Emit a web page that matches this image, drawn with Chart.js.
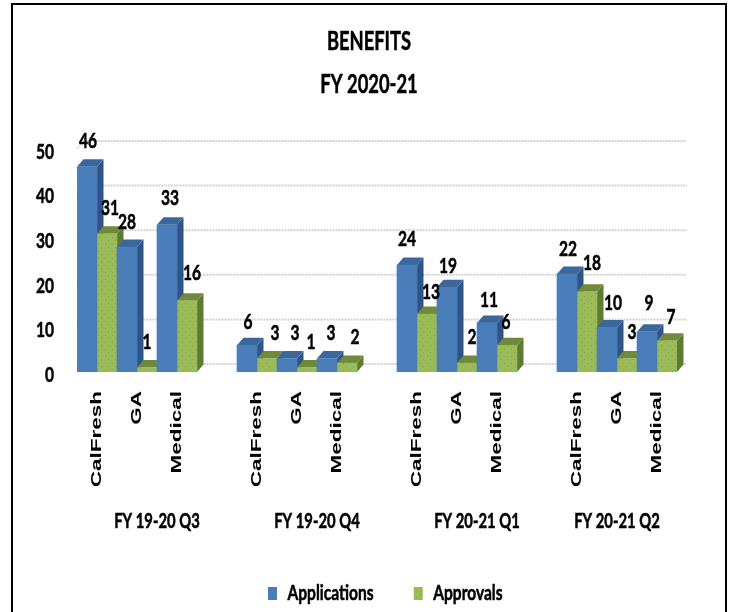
<!DOCTYPE html>
<html><head><meta charset="utf-8">
<script src="https://cdn.jsdelivr.net/npm/chart.js@4"></script>
<style>
html,body{margin:0;padding:0;background:#fff;overflow:hidden}
#frame{position:absolute;left:11px;top:3px;width:712px;height:609px;border:2px solid #000;border-bottom:none;background:#fff}
#wrap{position:absolute;left:0;top:0;width:712px;height:607px}
canvas{filter:blur(0.55px)}
</style></head><body>
<div id="frame"><div id="wrap"><canvas id="c"></canvas></div></div>
<script>
const titleLines = ['BENEFITS', 'FY 2020-21'];
const categories = ['CalFresh','GA','Medical','', 'CalFresh','GA','Medical','', 'CalFresh','GA','Medical','', 'CalFresh','GA','Medical'];
const applications = [46,28,33,null, 6,3,3,null, 24,19,11,null, 22,10,9];
const approvals    = [31,1,16,null, 3,1,2,null, 13,2,6,null, 18,3,7];
const groupLabels = ['FY 19-20 Q3','FY 19-20 Q4','FY 20-21 Q1','FY 20-21 Q2'];
const groupSlots  = [[0,3],[4,7],[8,11],[12,14]];
const yTicks = [0,10,20,30,40,50];
// hand placement of the value labels relative to each bar top (the source nudges them)
const appNudgeX = [1,0,3,0, 1,8,4,0, 0,1,2,0, 1,6,2];
const appNudgeY = [26,25,27,0, 23,25,25,0, 26,21,23,0, 25,24,29];
const aprNudgeX = [3,0,5,0, 8,4,8,0, 4,5,-1,0, 5,5,4];
const aprNudgeY = [26,25,27,0, 25,25,26,0, 22,26,23,0, 28,26,24];

const BODY = 'Lato,"Liberation Sans",sans-serif';
const DX = 6.5, DY = 7.5;
const SQUEEZE = 0.74, STRETCH = 1.5, TITLE_SQUEEZE = 0.68;

function dotted(base, dot){
  const p = document.createElement('canvas'); p.width = 7; p.height = 7;
  const g = p.getContext('2d');
  g.fillStyle = base; g.fillRect(0,0,7,7);
  g.fillStyle = dot; g.fillRect(1,1,1,1); g.fillRect(4,4,1,1);
  return p;
}
const ctx0 = document.getElementById('c').getContext('2d');
const greenFill = ctx0.createPattern(dotted('#9bbb59','#84a548'),'repeat');

// every text on this chart is horizontally scaled and slightly emboldened, as in the source image
let textScale = SQUEEZE;
const rawFill = ctx0.fillText.bind(ctx0);
ctx0.fillText = function(t,x,y){
  ctx0.save(); ctx0.translate(x,y); ctx0.scale(textScale,1);
  rawFill(t,0,0);
  if (textScale < 1){ ctx0.strokeStyle = ctx0.fillStyle; ctx0.lineWidth = 0.55; ctx0.setLineDash([]); ctx0.strokeText(t,0,0); }
  ctx0.restore();
};
function withScale(obj, method, s){
  if (obj['__w'+method]) return;
  const orig = obj[method];
  obj[method] = function(){ textScale = s; const r = orig.apply(this, arguments); textScale = SQUEEZE; return r; };
  obj['__w'+method] = true;
}

const shapes = [
  {top:'#3b679c', side:'#2f5587'},
  {top:'#6f8a3a', side:'#5f7a33'}
];

const plugin3d = {
  id:'plugin3d',
  afterLayout(chart){
    withScale(chart.scales.x,'drawLabels',STRETCH);
    withScale(chart.titleBlock,'draw',TITLE_SQUEEZE);
    const tb = chart.titleBlock;
    tb.left = 0; tb.right = chart.width; tb.top = 1; tb.bottom = tb.top + tb.height;
    const lg = chart.legend, pad = lg.options.labels.padding;
    lg.left = 255 - pad; lg.right = lg.left + 400;
    lg.top = 578 - pad; lg.bottom = lg.top + lg.height;
  },
  beforeDatasetsDraw(chart){
    const c = chart.ctx, y = chart.scales.y, a = chart.chartArea;
    c.save();
    c.strokeStyle = '#d2d2d2'; c.lineWidth = 2; c.setLineDash([2,1]);
    yTicks.forEach(v=>{
      const py = y.getPixelForValue(v);
      c.beginPath(); c.moveTo(a.left+DX, py-DY-0.5); c.lineTo(a.right+10, py-DY-0.5); c.stroke();
    });
    c.setLineDash([]); c.lineWidth = 1; c.strokeStyle = '#c8c8c8';
    yTicks.forEach(v=>{
      const py = y.getPixelForValue(v);
      c.beginPath(); c.moveTo(a.left, py); c.lineTo(a.left+DX, py-DY); c.stroke();
    });
    const base = y.getPixelForValue(0);
    categories.forEach((_,i)=>{
      [0,1].forEach(d=>{
        const el = chart.getDatasetMeta(d).data[i];
        const v = chart.data.datasets[d].data[i];
        if (v == null) return;
        const h = el.width/2, l = el.x-h, r = el.x+h, t = el.y;
        c.fillStyle = shapes[d].side;
        c.beginPath(); c.moveTo(r,t); c.lineTo(r+DX,t-DY); c.lineTo(r+DX,base-DY); c.lineTo(r,base); c.closePath(); c.fill();
        c.fillStyle = shapes[d].top;
        c.beginPath(); c.moveTo(l,t); c.lineTo(l+DX,t-DY); c.lineTo(r+DX,t-DY); c.lineTo(r,t); c.closePath(); c.fill();
      });
    });
    c.restore();
  },
  afterDatasetsDraw(chart){
    const c = chart.ctx, x = chart.scales.x;
    c.save();
    c.fillStyle = '#000'; c.textAlign = 'center'; c.textBaseline = 'middle';
    c.font = 'bold 21px '+BODY;
    const nudges = [[appNudgeX,appNudgeY],[aprNudgeX,aprNudgeY]];
    [0,1].forEach(d=>{
      chart.getDatasetMeta(d).data.forEach((el,i)=>{
        const v = chart.data.datasets[d].data[i];
        if (v == null) return;
        c.fillText(String(v), el.x + nudges[d][0][i], el.y - nudges[d][1][i]);
      });
    });
    c.font = 'bold 20px '+BODY;
    groupLabels.forEach((g,i)=>{
      const [s,e] = groupSlots[i];
      c.fillText(g, (x.getPixelForValue(s)+x.getPixelForValue(e))/2, 517);
    });
    c.restore();
  }
};

new Chart(ctx0,{
  type:'bar',
  data:{labels:categories,datasets:[
    {label:'Applications',data:applications,backgroundColor:'#4a7ebb',borderWidth:0},
    {label:'Approvals',data:approvals,backgroundColor:greenFill,borderWidth:0}
  ]},
  options:{
    responsive:true,maintainAspectRatio:false,animation:false,
    layout:{padding:{left:0,right:48,top:0,bottom:0}},
    datasets:{bar:{barPercentage:1,categoryPercentage:1}},
    scales:{
      x:{grid:{display:false},border:{display:false},
         afterFit(s){s.height=199;},
         ticks:{autoSkip:false,minRotation:90,maxRotation:90,padding:11,color:'#000',
                font:{family:'"Liberation Sans"',size:15,weight:'bold'}}},
      y:{min:0,max:50,grid:{display:false},border:{display:false},
         afterFit(s){s.width=64;},
         afterBuildTicks(s){s.ticks=yTicks.map(v=>({value:v}));},
         ticks:{padding:15,color:'#000',labelOffset:3,font:{family:BODY,size:21,weight:'bold'}}}
    },
    plugins:{
      title:{display:true,text:titleLines,color:'#000',
             font:{family:BODY,size:27,weight:'bold',lineHeight:43/27},
             padding:{top:14,bottom:44}},
      legend:{position:'bottom',align:'start',
              labels:{boxWidth:9,boxHeight:13,padding:10,color:'#000',
                      font:{family:BODY,size:21,weight:'bold'}}},
      tooltip:{enabled:false}
    }
  },
  plugins:[plugin3d]
});
</script>
</body></html>
